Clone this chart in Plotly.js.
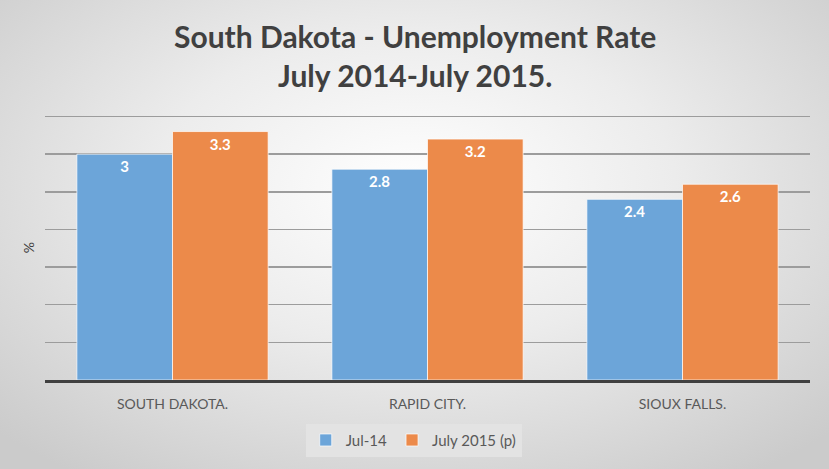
<!DOCTYPE html>
<html>
<head>
<meta charset="utf-8">
<script src="https://cdn.plot.ly/plotly-3.0.1.min.js"></script>
<style>
html,body{margin:0;padding:0;}
#wrap{width:829px;height:469px;background:radial-gradient(ellipse 70% 75% at 50% 40%, #ffffff 0%, #ececec 45%, #cbcbcb 100%);}
#chart{width:829px;height:469px;}
</style>
</head>
<body>
<div id="wrap"><div id="chart"></div></div>
<script>
var categories = ["SOUTH DAKOTA.", "RAPID CITY.", "SIOUX FALLS."];
var seriesNames = ["Jul-14", "July 2015 (p)"];
var jul14 = [3, 2.8, 2.4];
var jul15 = [3.3, 3.2, 2.6];
var titleText = "<b>South Dakota - Unemployment Rate<br>July 2014-July 2015.</b>";

var font = "Lato, 'Open Sans', sans-serif";
function trace(name, vals, color){
  return {
    type: "bar", name: name, x: categories, y: vals,
    text: vals.map(String), textposition: "inside", insidetextanchor: "end",
    textfont: {family: font, size: 15, color: "#ffffff", weight: "bold"},
    marker: {color: color, line: {color: "rgba(255,255,255,0.7)", width: 1}},
    hoverinfo: "none"
  };
}
var data = [trace(seriesNames[0], jul14, "#6CA5D9"), trace(seriesNames[1], jul15, "#EC8A4A")];
var layout = {
  width: 829, height: 469,
  paper_bgcolor: "rgba(0,0,0,0)", plot_bgcolor: "rgba(0,0,0,0)",
  margin: {l: 45, r: 19, t: 115, b: 86},
  annotations: [{text: titleText, xref: "paper", yref: "paper", x: (415 - 45) / 765, y: (383 - 55) / 268,
    xanchor: "center", yanchor: "middle", showarrow: false,
    font: {family: font, size: 30, color: "#404040"}}],
  barmode: "group", bargap: 0.25, bargroupgap: 0,
  xaxis: {showgrid: false, showline: true, linecolor: "#404040", linewidth: 2.5, ticks: "",
    tickfont: {family: font, size: 14, color: "#595959"}, ticklabelstandoff: 10, fixedrange: true},
  yaxis: {range: [0, 3.52], tickvals: [0.5, 1, 1.5, 2, 2.5, 3, 3.5], showticklabels: false, showgrid: true, gridcolor: "#9c9c9c", gridwidth: 1.5,
    zeroline: false, showline: false,
    title: {text: "%", font: {family: font, size: 14, color: "#404040"}, standoff: 6}, fixedrange: true},
  showlegend: true,
  legend: {orientation: "h", x: 0.482, xanchor: "center", y: -0.165, yanchor: "top",
    bgcolor: "#e3e3e3", font: {family: font, size: 15, color: "#595959"}, itemwidth: 30},
  font: {family: font}
};
Plotly.newPlot("chart", data, layout, {displayModeBar: false, staticPlot: true});
</script>
</body>
</html>
